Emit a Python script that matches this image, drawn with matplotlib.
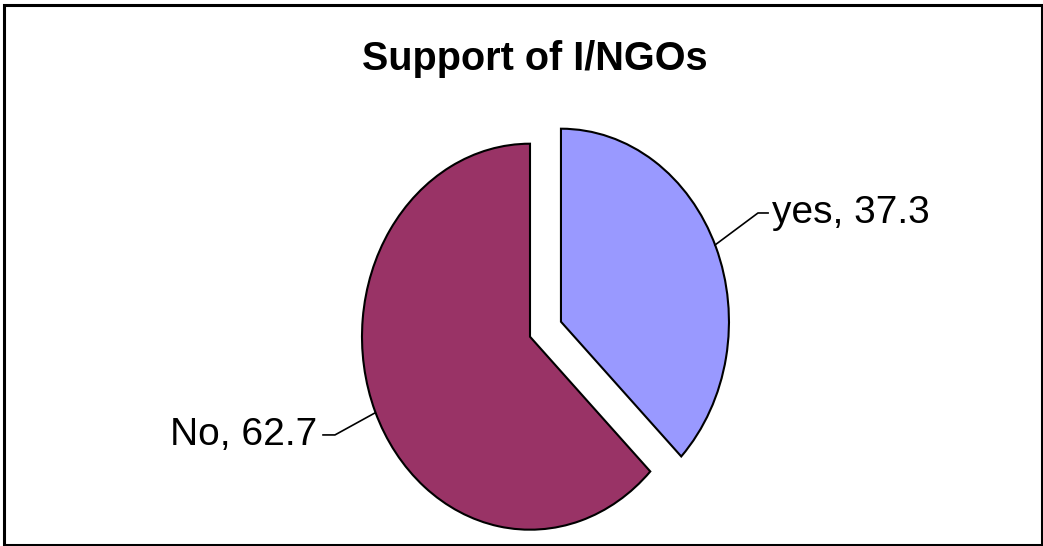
import matplotlib.pyplot as plt
from matplotlib.patches import Rectangle
from matplotlib import font_manager

# Data
labels = ['yes', 'No']
values = [37.3, 62.7]
colors = ['#9999FF', '#993366']
explode = [0.2, 0.0]
title = 'Support of I/NGOs'

plt.rcParams['font.family'] = ['Liberation Sans', 'DejaVu Sans']

W, H = 1043, 546
fig = plt.figure(figsize=(W / 100, H / 100), dpi=100)

# pie centre and radii in pixels (ellipse, taller than wide)
cx, cy, rx, ry = 530, 336.7, 168, 193
x0, x1 = -1.3, 1.3
y0, y1 = -1.1, 1.4
left = (cx + x0 * rx) / W
width = (x1 - x0) * rx / W
bottom = (H - (cy - y0 * ry)) / H
height = (y1 - y0) * ry / H
ax = fig.add_axes([left, bottom, width, height])

wedges, _ = ax.pie(values, colors=colors, explode=explode, startangle=90,
                   counterclock=False, radius=1.0,
                   wedgeprops=dict(edgecolor='black', linewidth=1.5))
for w in wedges:
    w.set_clip_on(False)
ax.set_xlim(x0, x1)
ax.set_ylim(y0, y1)
ax.set_aspect('auto')
ax.axis('off')

# leader lines and labels
ax.plot([1.101, 1.357, 1.417], [0.475, 0.641, 0.641], color='black',
        lw=1.2, clip_on=False)
ax.text(1.44, 0.641, f'{labels[0]}, {values[0]}', fontsize=28,
        ha='left', va='center')
ax.plot([-0.923, -1.161, -1.232], [-0.395, -0.509, -0.509], color='black',
        lw=1.2, clip_on=False)
ax.text(-1.268, -0.509, f'{labels[1]}, {values[1]}', fontsize=28,
        ha='right', va='center')

# title looks condensed in the original; use the narrow face if present
names = {f.name for f in font_manager.fontManager.ttflist}
if 'Liberation Sans Narrow' in names:
    fig.text(535 / W, 1 - 70 / H, title, fontsize=35, fontweight='bold',
             family='Liberation Sans Narrow', ha='center', va='baseline')
else:
    fig.text(535 / W, 1 - 70 / H, title, fontsize=28.5, fontweight='bold',
             ha='center', va='baseline')

# outer frame
fig.add_artist(Rectangle((4 / W, 1.5 / H), 1037.5 / W, 540 / H,
                         transform=fig.transFigure, fill=False,
                         edgecolor='black', linewidth=2.2))

fig.savefig('out.png', dpi=100)
